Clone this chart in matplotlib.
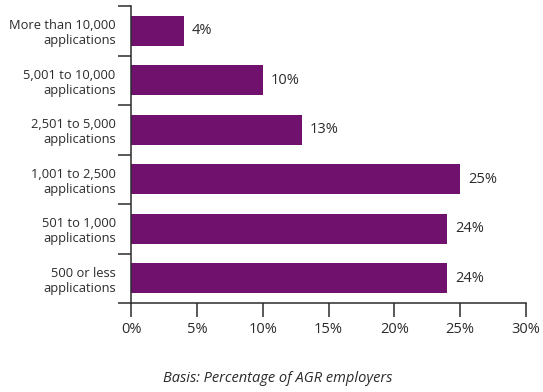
import matplotlib
matplotlib.use("Agg")
import matplotlib.pyplot as plt
import numpy as np

categories = [
    "More than 10,000\napplications",
    "5,001 to 10,000\napplications",
    "2,501 to 5,000\napplications",
    "1,001 to 2,500\napplications",
    "501 to 1,000\napplications",
    "500 or less\napplications",
]
values = [4, 10, 13, 25, 24, 24]
x_ticks = [0, 5, 10, 15, 20, 25, 30]
x_tick_labels = ["0%", "5%", "10%", "15%", "20%", "25%", "30%"]
caption = "Basis: Percentage of AGR employers"

BAR = "#70126D"
INK = "#2b2b2b"
plt.rcParams["font.family"] = ["Open Sans", "DejaVu Sans"]

fig = plt.figure(figsize=(5.43, 3.92), dpi=100)
ax = fig.add_axes([131 / 543, 1 - 303 / 392, 395 / 543, 297 / 392])

y = np.arange(len(categories))
ax.barh(y, values, height=0.61, color=BAR, zorder=2)

for yi, v in zip(y, values):
    ax.text(v + 0.6, yi, f"{v}%", va="center", ha="left", fontsize=10.5, color=INK)

ax.set_xlim(0, 30)
ax.set_ylim(len(categories) - 0.5, -0.5)

ax.set_xticks(x_ticks)
ax.set_xticklabels(x_tick_labels, fontsize=10.5, color=INK)
ax.tick_params(axis="x", direction="out", length=10, width=1.1, color=INK, pad=4)

ax.set_yticks(y)
ax.set_yticklabels(categories, fontsize=9.3, color=INK, linespacing=1.2)
ax.tick_params(axis="y", which="major", length=0, pad=11)
ax.set_yticks(np.arange(-0.5, len(categories) + 0.5, 1), minor=True)
ax.tick_params(axis="y", which="minor", direction="out", length=9.4, width=1.1, color=INK)

for side in ("top", "right"):
    ax.spines[side].set_visible(False)
for side in ("left", "bottom"):
    ax.spines[side].set_color(INK)
    ax.spines[side].set_linewidth(1.1)

fig.text(278 / 543, 1 - 379 / 392, caption, ha="center", va="center",
         fontsize=10.5, style="italic", color=INK)

fig.savefig("out.png", dpi=100)
